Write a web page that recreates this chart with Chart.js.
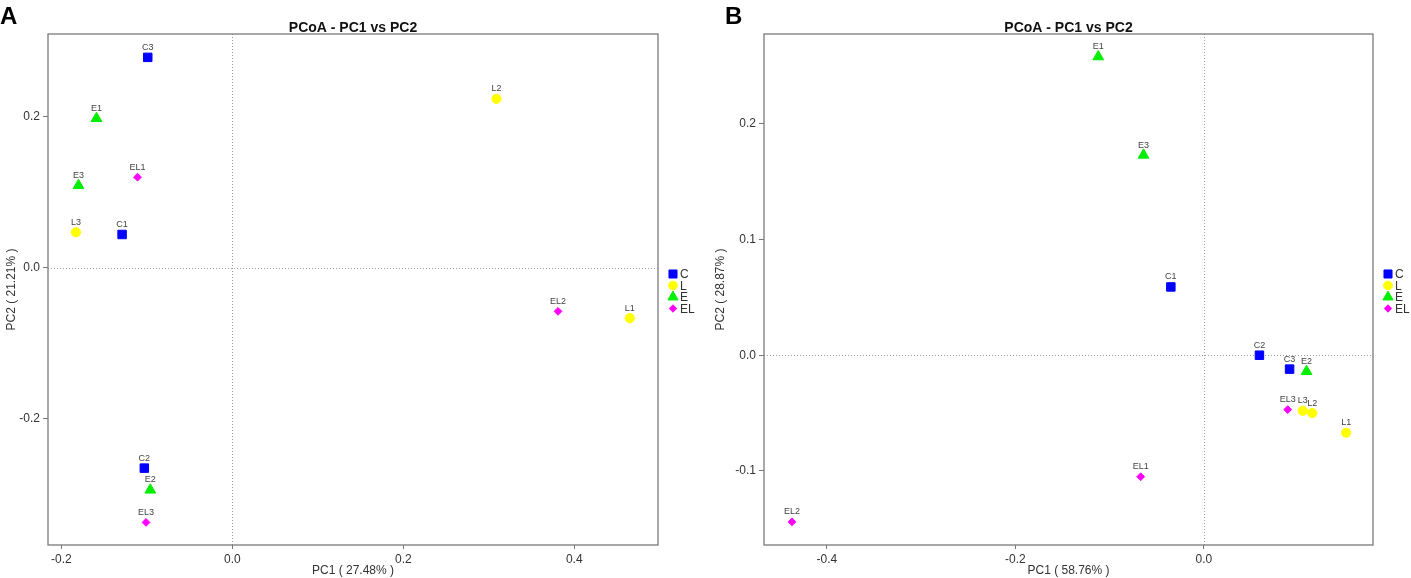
<!DOCTYPE html>
<html>
<head>
<meta charset="utf-8">
<script src="https://cdn.jsdelivr.net/npm/chart.js@4.4.1/dist/chart.umd.min.js"></script>
<style>
html,body{margin:0;padding:0;background:#fff;overflow:hidden}
#wrap{position:relative;width:1411px;height:578px;background:#fff}
.p{position:absolute;top:0;height:578px}
#pa{left:0;width:705px}
#pb{left:705px;width:706px}
</style>
</head>
<body>
<div id="wrap">
  <div class="p" id="pa"><canvas id="ca" width="705" height="578"></canvas></div>
  <div class="p" id="pb"><canvas id="cb" width="706" height="578"></canvas></div>
</div>
<script>
// ---------- data ----------
const groupNames = ['C', 'L', 'E', 'EL'];
const labelsC = ['C1', 'C2', 'C3'];
const labelsL = ['L1', 'L2', 'L3'];
const labelsE = ['E1', 'E2', 'E3'];
const labelsEL = ['EL1', 'EL2', 'EL3'];

// Panel A (PC1 27.48%, PC2 21.21%)
const aCx = [-0.129, -0.103, -0.099];
const aCy = [0.044, -0.266, 0.279];
const aLx = [0.465, 0.309, -0.183];
const aLy = [-0.067, 0.224, 0.047];
const aEx = [-0.159, -0.096, -0.180];
const aEy = [0.198, -0.295, 0.109];
const aELx = [-0.111, 0.381, -0.101];
const aELy = [0.120, -0.058, -0.338];
const aXRange = [-0.2157, 0.498];
const aYRange = [-0.368, 0.310];
const aXTicks = [-0.2, 0.0, 0.2, 0.4];
const aYTicks = [-0.2, 0.0, 0.2];

// Panel B (PC1 58.76%, PC2 28.87%)
const bCx = [-0.035, 0.059, 0.091];
const bCy = [0.059, 0.000, -0.012];
const bLx = [0.151, 0.115, 0.105];
const bLy = [-0.067, -0.050, -0.048];
const bEx = [-0.112, 0.109, -0.064];
const bEy = [0.258, -0.014, 0.173];
const bELx = [-0.067, -0.437, 0.089];
const bELy = [-0.105, -0.144, -0.047];
const bXRange = [-0.4667, 0.1795];
const bYRange = [-0.164, 0.2776];
const bXTicks = [-0.4, -0.2, 0.0];
const bYTicks = [-0.1, 0.0, 0.1, 0.2];

// ---------- styles ----------
const FONT = '"Liberation Sans", Arial, sans-serif';
const groupColors = ['#0000ff', '#ffff00', '#00ee00', '#ff00ff'];
const groupStyles = ['rect', 'circle', 'triangle', 'rectRot'];
const groupRadius = [6, 4.6, 6.2, 3.9];

function pts(xs, ys) { return xs.map((x, i) => ({x: x, y: ys[i]})); }

function makeDatasets(sets) {
  return sets.map((s, i) => ({
    label: groupNames[i],
    data: pts(s[0], s[1]),
    sampleLabels: s[2],
    pointStyle: groupStyles[i],
    pointRadius: groupRadius[i],
    pointHoverRadius: groupRadius[i],
    backgroundColor: groupColors[i],
    borderColor: groupColors[i],
    borderWidth: 1,
    showLine: false
  }));
}

function drawMarker(ctx, style, r, x, y, color) {
  ctx.save();
  ctx.fillStyle = color; ctx.strokeStyle = color; ctx.lineWidth = 1;
  if (Chart.helpers && Chart.helpers.drawPoint) {
    Chart.helpers.drawPoint(ctx, {pointStyle: style, rotation: 0, radius: r, borderWidth: 1}, x, y);
  } else {
    ctx.beginPath(); ctx.arc(x, y, r, 0, Math.PI * 2); ctx.fill();
  }
  ctx.restore();
}

function panelPlugin(letter, letterX) {
  return {
    id: 'panel' + letter,
    beforeDatasetsDraw(chart) {
      const ctx = chart.ctx, a = chart.chartArea;
      const x0 = chart.scales.x.getPixelForValue(0);
      const y0 = chart.scales.y.getPixelForValue(0);
      ctx.save();
      ctx.strokeStyle = '#9a9a9a';
      ctx.lineWidth = 1;
      ctx.setLineDash([1, 2]);
      ctx.beginPath();
      ctx.moveTo(Math.round(x0) + 0.5, a.top); ctx.lineTo(Math.round(x0) + 0.5, a.bottom);
      ctx.moveTo(a.left, Math.round(y0) + 0.5); ctx.lineTo(a.right, Math.round(y0) + 0.5);
      ctx.stroke();
      ctx.restore();
    },
    afterDatasetsDraw(chart) {
      const ctx = chart.ctx, a = chart.chartArea;
      ctx.save();
      ctx.font = '9px ' + FONT;
      ctx.fillStyle = '#444';
      ctx.textAlign = 'center';
      ctx.textBaseline = 'middle';
      chart.data.datasets.forEach((ds, i) => {
        const meta = chart.getDatasetMeta(i);
        meta.data.forEach((el, j) => {
          ctx.fillText(ds.sampleLabels[j], el.x, el.y - 10);
        });
      });
      // frame
      ctx.strokeStyle = '#7a7a7a';
      ctx.lineWidth = 1.3;
      ctx.strokeRect(a.left, a.top, a.right - a.left, a.bottom - a.top);
      // title
      ctx.fillStyle = '#111';
      ctx.font = 'bold 14px ' + FONT;
      ctx.textAlign = 'center';
      ctx.textBaseline = 'alphabetic';
      ctx.fillText('PCoA - PC1 vs PC2', (a.left + a.right) / 2, 32);
      // panel letter
      ctx.font = 'bold 24px ' + FONT;
      ctx.textAlign = 'left';
      ctx.fillStyle = '#000';
      ctx.fillText(letter, letterX, 24);
      // legend
      const lx = a.right + 15;
      const rows = [274, 285.5, 297, 308.5];
      chart.data.datasets.forEach((ds, i) => {
        drawMarker(ctx, groupStyles[i], groupRadius[i] * 0.95, lx, rows[i], groupColors[i]);
        ctx.fillStyle = '#333';
        ctx.font = '12px ' + FONT;
        ctx.textAlign = 'left';
        ctx.textBaseline = 'middle';
        ctx.fillText(ds.label, lx + 7, rows[i] + 1);
      });
      ctx.restore();
    }
  };
}

function makeChart(id, sets, xr, yr, xt, yt, xTitle, yTitle, padRight, yWidth, yTitlePad, letter, letterX) {
  return new Chart(document.getElementById(id), {
    type: 'scatter',
    data: {datasets: makeDatasets(sets)},
    options: {
      responsive: false,
      animation: false,
      events: [],
      layout: {padding: {left: 0, top: 34, right: padRight, bottom: 0}},
      plugins: {legend: {display: false}, tooltip: {enabled: false}, title: {display: false}},
      scales: {
        x: {
          type: 'linear', min: xr[0], max: xr[1],
          afterBuildTicks: s => { s.ticks = xt.map(v => ({value: v})); },
          afterFit: s => { s.height = 33; },
          ticks: {callback: v => Number(v).toFixed(1), font: {size: 12, family: FONT}, color: '#333', padding: 3, autoSkip: false, maxRotation: 0},
          grid: {drawOnChartArea: false, drawTicks: true, tickLength: 4, color: '#777', lineWidth: 1},
          border: {display: false},
          title: {display: true, text: xTitle, font: {size: 12, family: FONT}, color: '#333', padding: {top: 0, bottom: 0}}
        },
        y: {
          type: 'linear', min: yr[0], max: yr[1],
          afterBuildTicks: s => { s.ticks = yt.map(v => ({value: v})); },
          afterFit: s => { s.width = yWidth; },
          ticks: {callback: v => Number(v).toFixed(1), font: {size: 12, family: FONT}, color: '#333', padding: 3, autoSkip: false},
          grid: {drawOnChartArea: false, drawTicks: true, tickLength: 5, color: '#777', lineWidth: 1},
          border: {display: false},
          title: {display: true, text: yTitle, font: {size: 12, family: FONT}, color: '#333', padding: {top: yTitlePad, bottom: 0}}
        }
      }
    },
    plugins: [panelPlugin(letter, letterX)]
  });
}

makeChart('ca',
  [[aCx, aCy, labelsC], [aLx, aLy, labelsL], [aEx, aEy, labelsE], [aELx, aELy, labelsEL]],
  aXRange, aYRange, aXTicks, aYTicks,
  'PC1 ( 27.48% )', 'PC2 ( 21.21% )', 47, 48, 4, 'A', 0);

makeChart('cb',
  [[bCx, bCy, labelsC], [bLx, bLy, labelsL], [bEx, bEy, labelsE], [bELx, bELy, labelsEL]],
  bXRange, bYRange, bXTicks, bYTicks,
  'PC1 ( 58.76% )', 'PC2 ( 28.87% )', 38, 59, 8, 'B', 20);
</script>
</body>
</html>
